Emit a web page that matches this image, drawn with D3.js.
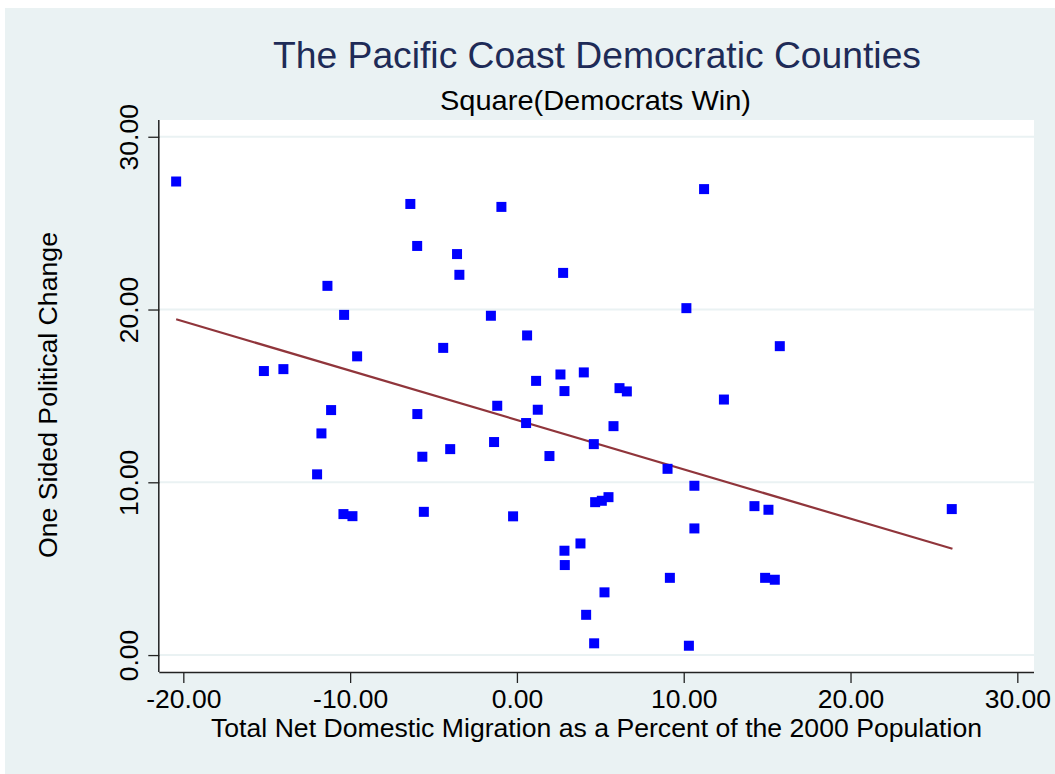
<!DOCTYPE html>
<html>
<head>
<meta charset="utf-8">
<script src="https://cdn.jsdelivr.net/npm/d3@7"></script>
<style>
  html, body { margin: 0; padding: 0; background: #ffffff; }
  svg { display: block; }
  text { font-family: "Liberation Sans", Arial, Helvetica, sans-serif; }
</style>
</head>
<body>
<svg id="chart" width="1055" height="774"></svg>
<script>
// ---- Data ----
const migration = [
  -20.43, -6.39, -0.93, 11.22, -5.98, -3.59, -3.45, 2.77, -11.36, -10.36,
  -1.56, 10.16, 0.61, -4.42, -9.58, 15.76, -15.17, -14.00, 2.61, 4.01,
  1.15, 2.85, 6.15, 6.59, 12.41, -11.14, -1.18, 1.25, -5.97, 0.55,
  5.79, -11.72, -1.37, -4.00, 4.61, -5.67, 1.95, 9.03, -11.98, 10.64,
  14.24, 15.08, 26.07, -10.40, -9.86, -5.58, -0.23, 4.69, 5.09, 5.49,
  10.64, 3.81, 2.85, 2.87, 9.17, 14.88, 15.46, 5.25, 4.15, 4.63, 10.31
];
const politicalChange = [
  27.41, 26.11, 25.94, 26.97, 23.68, 23.21, 22.01, 22.12, 21.37, 19.69,
  19.64, 20.08, 18.50, 17.78, 17.29, 17.88, 16.44, 16.55, 16.24, 16.36,
  15.87, 15.28, 15.45, 15.26, 14.79, 14.18, 14.43, 14.20, 13.95, 13.43,
  13.25, 12.83, 12.33, 11.92, 12.21, 11.48, 11.52, 10.78, 10.46, 9.80,
  8.62, 8.41, 8.45, 8.16, 8.04, 8.29, 8.03, 8.85, 8.93, 9.14,
  7.33, 6.46, 6.04, 5.21, 4.47, 4.47, 4.36, 3.63, 2.33, 0.68, 0.54
];
// Fitted line endpoints (linear fit, as drawn in the reference)
const fitX = [-20.43, 26.11];
const fitY = [19.44, 6.15];

const xTicks = [-20, -10, 0, 10, 20, 30];
const yTicks = [0, 10, 20, 30];

const titleText = "The Pacific Coast Democratic Counties";
const subtitleText = "Square(Democrats Win)";
const xTitle = "Total Net Domestic Migration as a Percent of the 2000 Population";
const yTitle = "One Sided Political Change";

// ---- Layout ----
const W = 1055, H = 774;
const plot = { left: 159.3, right: 1034, top: 120, bottom: 672 };

const svg = d3.select("#chart");

// outer background
svg.append("rect").attr("x", 5).attr("y", 8).attr("width", W - 5).attr("height", H - 8)
  .attr("fill", "#EAF2F3");
// plot region
svg.append("rect").attr("x", plot.left).attr("y", plot.top)
  .attr("width", plot.right - plot.left).attr("height", plot.bottom - plot.top)
  .attr("fill", "#ffffff");

const x = d3.scaleLinear().domain([-21.44, 31.0]).range([plot.left, plot.right]);
const y = d3.scaleLinear().domain([-0.98, 30.97]).range([plot.bottom, plot.top]);

// gridlines
svg.append("g").selectAll("line").data(yTicks).join("line")
  .attr("x1", plot.left).attr("x2", plot.right)
  .attr("y1", d => y(d)).attr("y2", d => y(d))
  .attr("stroke", "#EAF2F3").attr("stroke-width", 2);

// axes
const fmt = d3.format(".2f");
const tickFont = 26.5;
const xAxis = d3.axisBottom(x).tickValues(xTicks).tickFormat(d => fmt(d).replace("\u2212", "-")).tickSize(11).tickSizeOuter(0);
const gx = svg.append("g").attr("transform", `translate(0,${plot.bottom})`).call(xAxis);
gx.select(".domain").attr("d", `M${plot.left},0.5H${plot.right}`).attr("stroke", "#222").attr("stroke-width", 1.5);
gx.selectAll(".tick line").attr("stroke", "#222").attr("stroke-width", 1.3);
gx.selectAll(".tick text").attr("y", 36).attr("dy", 0)
  .attr("font-size", tickFont).attr("fill", "#000").attr("font-family", "Liberation Sans, Arial, sans-serif");

const yAxis = d3.axisLeft(y).tickValues(yTicks).tickFormat(d => fmt(d)).tickSize(11).tickSizeOuter(0);
const gy = svg.append("g").attr("transform", `translate(${plot.left},0)`).call(yAxis);
gy.select(".domain").attr("d", `M-0.5,${plot.top}V${plot.bottom}`).attr("stroke", "#222").attr("stroke-width", 1.5);
gy.selectAll(".tick line").attr("stroke", "#222").attr("stroke-width", 1.3);
gy.selectAll(".tick text")
  .attr("x", 0).attr("y", 0).attr("dy", 0)
  .attr("transform", "translate(-21.5,0) rotate(-90)")
  .attr("text-anchor", "middle")
  .attr("font-size", tickFont).attr("fill", "#000").attr("font-family", "Liberation Sans, Arial, sans-serif");

// fitted line
const fitData = fitX.map((v, i) => [v, fitY[i]]);
svg.append("path").datum(fitData)
  .attr("d", d3.line().x(d => x(d[0])).y(d => y(d[1])))
  .attr("fill", "none").attr("stroke", "#90353B").attr("stroke-width", 2.2);

// points
const pts = migration.map((v, i) => ({ x: v, y: politicalChange[i] }));
const s = 10;
svg.append("g").selectAll("rect").data(pts).join("rect")
  .attr("x", d => x(d.x) - s / 2).attr("y", d => y(d.y) - s / 2)
  .attr("width", s).attr("height", s)
  .attr("fill", "#0000FF");

// titles
svg.append("text").attr("x", 273).attr("y", 68)
  .attr("textLength", 648).attr("lengthAdjust", "spacingAndGlyphs")
  .attr("font-size", 36).attr("fill", "#1E2B57").text(titleText);
svg.append("text").attr("x", 440).attr("y", 110)
  .attr("textLength", 311).attr("lengthAdjust", "spacingAndGlyphs")
  .attr("font-size", 28).attr("fill", "#000").text(subtitleText);
svg.append("text").attr("x", 211).attr("y", 737)
  .attr("textLength", 771).attr("lengthAdjust", "spacingAndGlyphs")
  .attr("font-size", 26).attr("fill", "#000").text(xTitle);
svg.append("text").attr("transform", `translate(57,558) rotate(-90)`)
  .attr("textLength", 326).attr("lengthAdjust", "spacingAndGlyphs")
  .attr("font-size", 26).attr("fill", "#000").text(yTitle);
</script>
</body>
</html>
